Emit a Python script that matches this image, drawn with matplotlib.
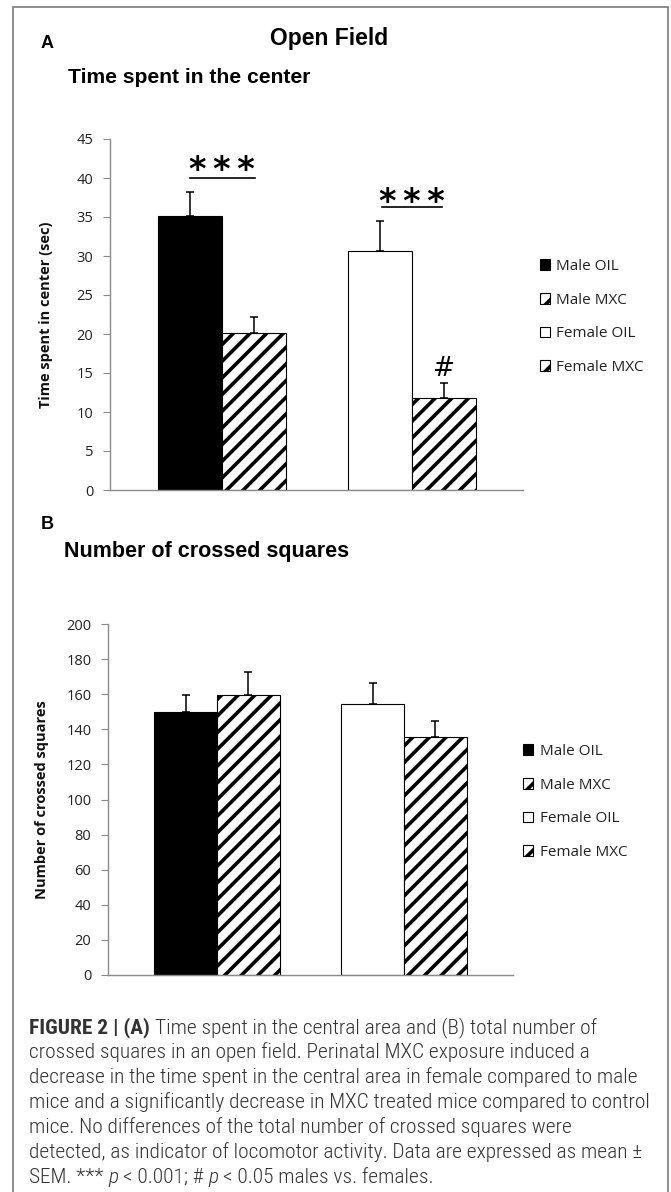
import matplotlib
matplotlib.use("Agg")
from matplotlib import pyplot as plt
from matplotlib.patches import Rectangle
import numpy as np

# data
series = ["Male OIL", "Male MXC", "Female OIL", "Female MXC"]
time_center = [35.1, 20.1, 30.6, 11.8]
time_center_sem = [3.1, 2.1, 3.9, 1.9]
crossed = [149.7, 159.4, 154.3, 135.4]
crossed_sem = [9.7, 13.2, 12.0, 9.2]
time_ticks = list(range(0, 46, 5))
crossed_ticks = list(range(0, 201, 20))

caption_lines = [
    [("FIGURE 2 | (A)", "bold", "normal"), ("Time spent in the central area and (B) total number of", "light", "normal")],
    [("crossed squares in an open field. Perinatal MXC exposure induced a", "light", "normal")],
    [("decrease in the time spent in the central area in female compared to male", "light", "normal")],
    [("mice and a significantly decrease in MXC treated mice compared to control", "light", "normal")],
    [("mice. No differences of the total number of crossed squares were", "light", "normal")],
    [("detected, as indicator of locomotor activity. Data are expressed as mean \u00b1", "light", "normal")],
    [("SEM. ***", "light", "normal"), ("p", "light", "italic"), ("< 0.001; #", "light", "normal"),
     ("p", "light", "italic"), ("< 0.05 males vs. females.", "light", "normal")],
]

plt.rcParams['hatch.linewidth'] = 2.6
plt.rcParams['hatch.color'] = 'k'

W, H = 671, 1192
fig = plt.figure(figsize=(W / 100, H / 100), dpi=100, facecolor="w")

def fx(px):
    return px / W

def fy(py):
    return 1 - py / H

face = ['k', 'w', 'w', 'w']
hatch = [None, '//', None, '//']
width = 0.335
xpos = [-width / 2, width / 2, 1 - width / 2, 1 + width / 2]
tick_font = 'Open Sans'
grey = '#8a8a8a'


def panel(rect, vals, sem, ticks, ylabel, xlim, leg_xy):
    ax = fig.add_axes(rect)
    for i in range(4):
        ax.bar(xpos[i], vals[i], width, color=face[i], edgecolor='k', hatch=hatch[i],
               linewidth=0.8, label=series[i], zorder=2)
    ax.errorbar(xpos, vals, yerr=[np.zeros(4), sem], fmt='none', ecolor='k',
                elinewidth=1.1, capsize=2.9, capthick=1.1, zorder=3)
    ax.set_xlim(*xlim)
    ax.set_ylim(ticks[0], ticks[-1])
    ax.set_yticks(ticks)
    ax.set_xticks([])
    for s in ['top', 'right']:
        ax.spines[s].set_visible(False)
    for s in ['left', 'bottom']:
        ax.spines[s].set_color(grey)
        ax.spines[s].set_linewidth(1.0)
    ax.tick_params(axis='y', direction='out', length=5, width=0.8, color=grey,
                   pad=7, labelsize=10.5, labelcolor='#222222')
    for lab in ax.get_yticklabels():
        lab.set_family(tick_font)
    ax.set_ylabel(ylabel, family=tick_font, fontweight='bold', fontsize=10.5, color='#111111')
    ax.yaxis.set_label_coords(*leg_xy[0])
    leg = ax.legend(loc='upper left', bbox_to_anchor=(fx(leg_xy[1][0]), fy(leg_xy[1][1])),
                    bbox_transform=fig.transFigure, frameon=False, borderpad=0,
                    borderaxespad=0, handlelength=0.68, handleheight=0.68,
                    handletextpad=0.4, labelspacing=1.22,
                    prop={'family': tick_font, 'size': 11})
    for t in leg.get_texts():
        t.set_color('#222222')
    return ax


axA = panel([fx(110), fy(490), 413 / W, 351 / H], time_center, time_center_sem, time_ticks,
            "Time spent in center (sec)", (-0.59, 1.585), ((-0.138, 0.5), (540, 259)))
axB = panel([fx(108), fy(975), 405 / W, 351 / H], crossed, crossed_sem, crossed_ticks,
            "Number of crossed squares", (-0.583, 1.583), ((-0.146, 0.5), (523, 744)))

# significance marks
stars = "*\u2009*\u2009*"
axA.text(0.0, 39.7, stars, ha='center', va='baseline', fontsize=24, fontweight='bold',
         family='DejaVu Sans')
axA.plot([-0.168, 0.174], [40.0, 40.0], color='k', lw=1.2, clip_on=False)
axA.text(1.0, 35.6, stars, ha='center', va='baseline', fontsize=24, fontweight='bold',
         family='DejaVu Sans')
axA.plot([0.84, 1.16], [36.3, 36.3], color='k', lw=1.2, clip_on=False)
axA.text(xpos[3], 14.6, "#", ha='center', va='baseline', fontsize=19, family='DejaVu Sans')

# titles
title_font = 'Liberation Sans'
fig.text(fx(41), fy(48), "A", fontsize=13, fontweight='bold', family=title_font)
fig.text(fx(329), fy(44.5), "Open Field", ha='center', fontsize=16.5, fontweight='bold', family=title_font)
fig.text(fx(68), fy(83), "Time spent in the center", fontsize=15.2, fontweight='bold', family=title_font)
fig.text(fx(41), fy(529), "B", fontsize=13, fontweight='bold', family=title_font)
fig.text(fx(64), fy(557), "Number of crossed squares", fontsize=15.5, fontweight='bold', family=title_font)

# frame
fig.patches.append(Rectangle((fx(13), fy(1210)), (668 - 13) / W, (1210 - 7) / H,
                             transform=fig.transFigure, fill=False, edgecolor='#7a7a7a', lw=1.2))

# caption
cap_font = ['Roboto Condensed', 'Liberation Sans Narrow', 'Roboto', 'DejaVu Sans']
renderer = fig.canvas.get_renderer()
probe = fig.text(0, 0, caption_lines[3][0][0], fontsize=13, family=cap_font, fontweight='light')
cap_size = 13 * 619 / probe.get_window_extent(renderer).width
probe.remove()
probe1 = fig.text(0, 0, "x x", fontsize=cap_size, family=cap_font, fontweight='light')
probe2 = fig.text(0, 0, "xx", fontsize=cap_size, family=cap_font, fontweight='light')
space_w = probe1.get_window_extent(renderer).width - probe2.get_window_extent(renderer).width
probe1.remove()
probe2.remove()

base = 1033
for k, line in enumerate(caption_lines):
    x = 29
    y = base + 25 * k
    for j, (txt, wgt, sty) in enumerate(line):
        t = fig.text(fx(x), fy(y), txt, fontsize=cap_size, family=cap_font, fontweight=wgt,
                     fontstyle=sty, color='#333333', va='baseline')
        x += t.get_window_extent(renderer).width + space_w

fig.savefig("out.png", dpi=100, facecolor="w")
